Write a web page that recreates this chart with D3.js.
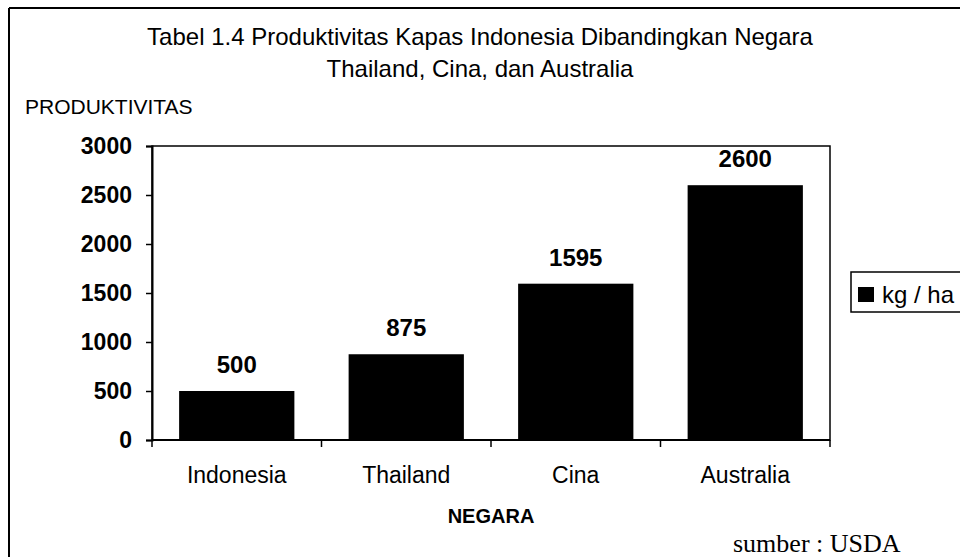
<!DOCTYPE html>
<html>
<head>
<meta charset="utf-8">
<script src="https://cdn.jsdelivr.net/npm/d3@7"></script>
<style>
  body { margin: 0; background: #fff; }
  svg { display: block; font-family: 'Liberation Sans', Arial, sans-serif; }
</style>
</head>
<body>
<svg width="960" height="557"></svg>
<script>
const negara = ['Indonesia', 'Thailand', 'Cina', 'Australia'];
const produktivitas = [500, 875, 1595, 2600];
const yTicks = [0, 500, 1000, 1500, 2000, 2500, 3000];
const titleLines = ['Tabel 1.4 Produktivitas Kapas Indonesia Dibandingkan Negara', 'Thailand, Cina, dan Australia'];

const svg = d3.select('svg');
const margin = {top: 146, right: 130, bottom: 117, left: 152};
const width = +svg.attr('width') - margin.left - margin.right;
const height = +svg.attr('height') - margin.top - margin.bottom;

// outer frame (top + left)
svg.append('line')
  .attr('x1', 9).attr('x2', 960).attr('y1', 8).attr('y2', 8)
  .attr('stroke', '#000').attr('stroke-width', 2);
svg.append('line')
  .attr('x1', 9).attr('x2', 9).attr('y1', 8).attr('y2', 557)
  .attr('stroke', '#000').attr('stroke-width', 2);

svg.selectAll('.title')
  .data(titleLines)
  .enter().append('text')
    .attr('class', 'title')
    .attr('x', 480)
    .attr('y', (d, i) => 45 + i * 32)
    .attr('text-anchor', 'middle')
    .attr('font-size', '24px')
    .text(d => d);

svg.append('text')
  .attr('x', 25).attr('y', 114)
  .attr('font-size', '21px')
  .text('PRODUKTIVITAS');

const g = svg.append('g')
  .attr('transform', `translate(${margin.left},${margin.top})`);

const x = d3.scaleBand()
  .domain(negara)
  .range([0, width])
  .padding(0);

const y = d3.scaleLinear()
  .domain([0, 3000])
  .range([height, 0]);

const barW = x.bandwidth() * 0.68;

g.selectAll('.bar')
  .data(produktivitas)
  .enter().append('rect')
    .attr('class', 'bar')
    .attr('x', (d, i) => x(negara[i]) + (x.bandwidth() - barW) / 2)
    .attr('y', d => y(d))
    .attr('width', barW)
    .attr('height', d => height - y(d))
    .attr('fill', '#000');

g.selectAll('.val')
  .data(produktivitas)
  .enter().append('text')
    .attr('class', 'val')
    .attr('x', (d, i) => x(negara[i]) + x.bandwidth() / 2)
    .attr('y', d => y(d) - 18)
    .attr('text-anchor', 'middle')
    .attr('font-size', '24px')
    .attr('font-weight', 'bold')
    .text(d => d);

// plot frame
g.append('rect')
  .attr('width', width).attr('height', height)
  .attr('fill', 'none').attr('stroke', '#000').attr('stroke-width', 1.5);

const yAxis = g.append('g')
  .call(d3.axisLeft(y).tickValues(yTicks).tickFormat(d3.format('d')).tickSize(6).tickPadding(14));
yAxis.select('.domain').attr('stroke-width', 2);
yAxis.selectAll('line').attr('stroke-width', 1.5);
yAxis.selectAll('text')
  .attr('font-size', '23px')
  .attr('font-weight', 'bold')
  .attr('fill', '#000');

// category boundary ticks
g.selectAll('.xtick')
  .data(d3.range(negara.length + 1))
  .enter().append('line')
    .attr('class', 'xtick')
    .attr('x1', i => i * x.step()).attr('x2', i => i * x.step())
    .attr('y1', height).attr('y2', height + 7)
    .attr('stroke', '#000').attr('stroke-width', 1.5);
g.append('line')
  .attr('x1', 0).attr('x2', width).attr('y1', height).attr('y2', height)
  .attr('stroke', '#000').attr('stroke-width', 2);

g.selectAll('.cat')
  .data(negara)
  .enter().append('text')
    .attr('class', 'cat')
    .attr('x', d => x(d) + x.bandwidth() / 2)
    .attr('y', height + 43)
    .attr('text-anchor', 'middle')
    .attr('font-size', '23px')
    .text(d => d);

g.append('text')
  .attr('x', width / 2).attr('y', height + 83)
  .attr('text-anchor', 'middle')
  .attr('font-size', '20px')
  .attr('font-weight', 'bold')
  .text('NEGARA');

// legend
const legend = svg.append('g').attr('transform', 'translate(851,272)');
legend.append('rect')
  .attr('width', 120).attr('height', 40)
  .attr('fill', '#fff').attr('stroke', '#000').attr('stroke-width', 1.5);
legend.append('rect')
  .attr('x', 7).attr('y', 15).attr('width', 16).attr('height', 15)
  .attr('fill', '#000');
legend.append('text')
  .attr('x', 31).attr('y', 31)
  .attr('font-size', '24px')
  .text('kg / ha');

svg.append('text')
  .attr('x', 733).attr('y', 552)
  .attr('font-family', "'Liberation Serif', 'Times New Roman', serif")
  .attr('font-size', '26px')
  .text('sumber : USDA');
</script>
</body>
</html>
